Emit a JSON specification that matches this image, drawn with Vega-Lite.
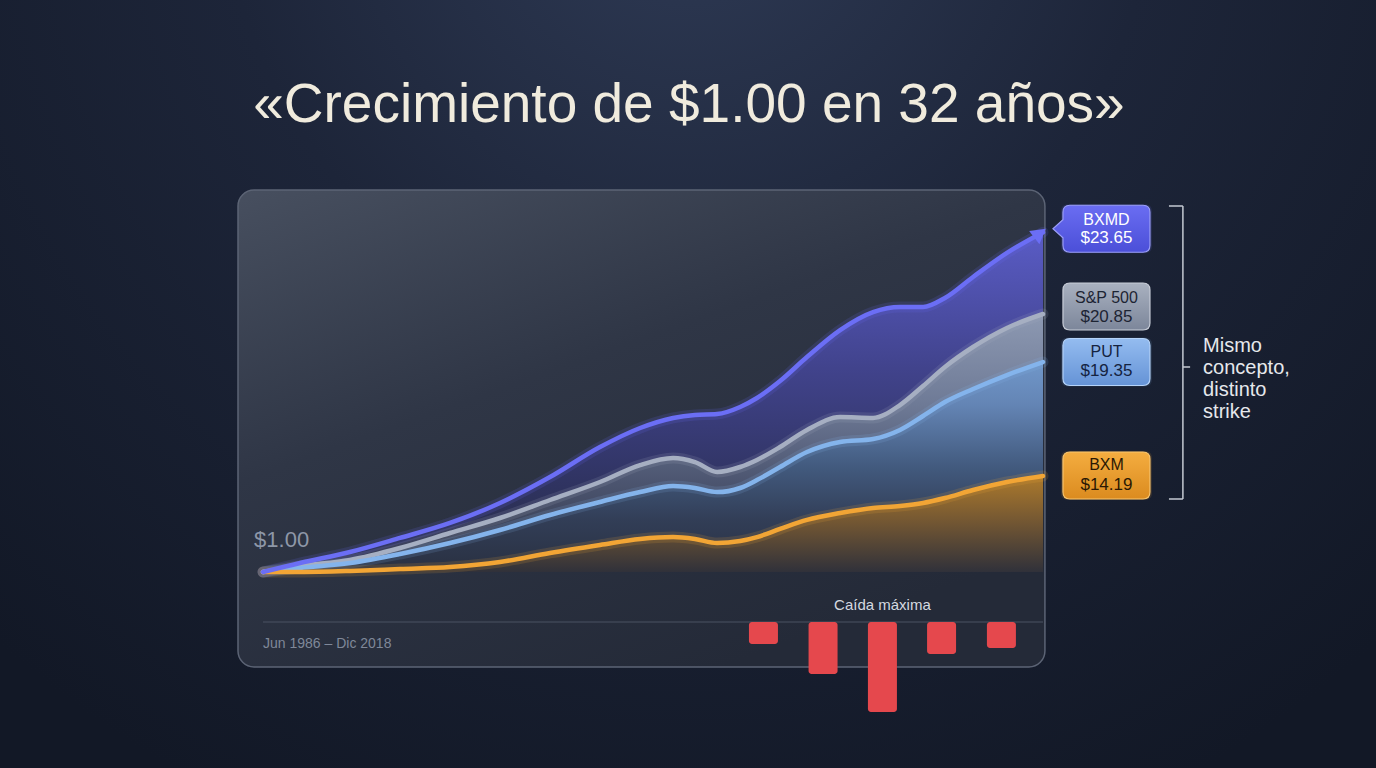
{
  "$schema": "https://vega.github.io/schema/vega-lite/v6.json",
  "width": 1376,
  "height": 768,
  "autosize": {"type": "fit", "contains": "padding"},
  "padding": 0,
  "background": "#131a28",
  "config": {"view": {"stroke": null}, "axis": {"disable": true}, "font": "Liberation Sans"},
  "datasets": {
    "series": [
      {"anio": 1986.5, "serie": "BXMD", "valor": 1.00},
      {"anio": 1988.04, "serie": "BXMD", "valor": 1.60},
      {"anio": 1990.12, "serie": "BXMD", "valor": 2.33},
      {"anio": 1992.2, "serie": "BXMD", "valor": 3.27},
      {"anio": 1994.28, "serie": "BXMD", "valor": 4.27},
      {"anio": 1996.36, "serie": "BXMD", "valor": 5.60},
      {"anio": 1998.44, "serie": "BXMD", "valor": 7.33},
      {"anio": 2000.52, "serie": "BXMD", "valor": 9.33},
      {"anio": 2002.19, "serie": "BXMD", "valor": 10.60},
      {"anio": 2003.56, "serie": "BXMD", "valor": 11.27},
      {"anio": 2004.47, "serie": "BXMD", "valor": 11.47},
      {"anio": 2005.39, "serie": "BXMD", "valor": 11.53},
      {"anio": 2006.35, "serie": "BXMD", "valor": 12.00},
      {"anio": 2007.05, "serie": "BXMD", "valor": 12.60},
      {"anio": 2008.01, "serie": "BXMD", "valor": 13.73},
      {"anio": 2009.13, "serie": "BXMD", "valor": 15.33},
      {"anio": 2010.51, "serie": "BXMD", "valor": 17.13},
      {"anio": 2011.88, "serie": "BXMD", "valor": 18.33},
      {"anio": 2013.0, "serie": "BXMD", "valor": 18.67},
      {"anio": 2013.96, "serie": "BXMD", "valor": 18.67},
      {"anio": 2014.87, "serie": "BXMD", "valor": 19.27},
      {"anio": 2016.04, "serie": "BXMD", "valor": 20.67},
      {"anio": 2017.45, "serie": "BXMD", "valor": 22.27},
      {"anio": 2018.95, "serie": "BXMD", "valor": 23.65},
      {"anio": 1986.5, "serie": "S&P 500", "valor": 1.00},
      {"anio": 1988.04, "serie": "S&P 500", "valor": 1.40},
      {"anio": 1990.12, "serie": "S&P 500", "valor": 1.80},
      {"anio": 1992.2, "serie": "S&P 500", "valor": 2.60},
      {"anio": 1994.28, "serie": "S&P 500", "valor": 3.60},
      {"anio": 1996.36, "serie": "S&P 500", "valor": 4.60},
      {"anio": 1998.44, "serie": "S&P 500", "valor": 5.80},
      {"anio": 2000.52, "serie": "S&P 500", "valor": 7.00},
      {"anio": 2002.19, "serie": "S&P 500", "valor": 8.13},
      {"anio": 2003.56, "serie": "S&P 500", "valor": 8.60},
      {"anio": 2004.47, "serie": "S&P 500", "valor": 8.33},
      {"anio": 2005.39, "serie": "S&P 500", "valor": 7.67},
      {"anio": 2006.35, "serie": "S&P 500", "valor": 8.00},
      {"anio": 2007.05, "serie": "S&P 500", "valor": 8.47},
      {"anio": 2008.01, "serie": "S&P 500", "valor": 9.33},
      {"anio": 2009.13, "serie": "S&P 500", "valor": 10.47},
      {"anio": 2010.51, "serie": "S&P 500", "valor": 11.33},
      {"anio": 2011.88, "serie": "S&P 500", "valor": 11.27},
      {"anio": 2013.0, "serie": "S&P 500", "valor": 12.13},
      {"anio": 2013.96, "serie": "S&P 500", "valor": 13.40},
      {"anio": 2014.87, "serie": "S&P 500", "valor": 14.67},
      {"anio": 2016.04, "serie": "S&P 500", "valor": 16.00},
      {"anio": 2017.45, "serie": "S&P 500", "valor": 17.27},
      {"anio": 2018.95, "serie": "S&P 500", "valor": 18.20},
      {"anio": 1986.5, "serie": "PUT", "valor": 1.00},
      {"anio": 1988.04, "serie": "PUT", "valor": 1.27},
      {"anio": 1990.12, "serie": "PUT", "valor": 1.60},
      {"anio": 1992.2, "serie": "PUT", "valor": 2.20},
      {"anio": 1994.28, "serie": "PUT", "valor": 2.93},
      {"anio": 1996.36, "serie": "PUT", "valor": 3.80},
      {"anio": 1998.44, "serie": "PUT", "valor": 4.80},
      {"anio": 2000.52, "serie": "PUT", "valor": 5.67},
      {"anio": 2002.19, "serie": "PUT", "valor": 6.33},
      {"anio": 2003.56, "serie": "PUT", "valor": 6.73},
      {"anio": 2004.47, "serie": "PUT", "valor": 6.60},
      {"anio": 2005.39, "serie": "PUT", "valor": 6.33},
      {"anio": 2006.35, "serie": "PUT", "valor": 6.60},
      {"anio": 2007.05, "serie": "PUT", "valor": 7.13},
      {"anio": 2008.01, "serie": "PUT", "valor": 8.00},
      {"anio": 2009.13, "serie": "PUT", "valor": 9.00},
      {"anio": 2010.51, "serie": "PUT", "valor": 9.67},
      {"anio": 2011.88, "serie": "PUT", "valor": 9.87},
      {"anio": 2013.0, "serie": "PUT", "valor": 10.47},
      {"anio": 2013.96, "serie": "PUT", "valor": 11.40},
      {"anio": 2014.87, "serie": "PUT", "valor": 12.33},
      {"anio": 2016.04, "serie": "PUT", "valor": 13.20},
      {"anio": 2017.45, "serie": "PUT", "valor": 14.13},
      {"anio": 2018.95, "serie": "PUT", "valor": 15.00},
      {"anio": 1986.5, "serie": "BXM", "valor": 1.00},
      {"anio": 1988.04, "serie": "BXM", "valor": 1.00},
      {"anio": 1990.12, "serie": "BXM", "valor": 1.07},
      {"anio": 1992.2, "serie": "BXM", "valor": 1.20},
      {"anio": 1994.28, "serie": "BXM", "valor": 1.33},
      {"anio": 1996.36, "serie": "BXM", "valor": 1.67},
      {"anio": 1998.44, "serie": "BXM", "valor": 2.27},
      {"anio": 2000.52, "serie": "BXM", "valor": 2.80},
      {"anio": 2002.19, "serie": "BXM", "valor": 3.20},
      {"anio": 2003.56, "serie": "BXM", "valor": 3.33},
      {"anio": 2004.47, "serie": "BXM", "valor": 3.20},
      {"anio": 2005.39, "serie": "BXM", "valor": 2.93},
      {"anio": 2006.35, "serie": "BXM", "valor": 3.07},
      {"anio": 2007.05, "serie": "BXM", "valor": 3.33},
      {"anio": 2008.01, "serie": "BXM", "valor": 3.87},
      {"anio": 2009.13, "serie": "BXM", "valor": 4.47},
      {"anio": 2010.51, "serie": "BXM", "valor": 4.93},
      {"anio": 2011.88, "serie": "BXM", "valor": 5.27},
      {"anio": 2013.0, "serie": "BXM", "valor": 5.40},
      {"anio": 2013.96, "serie": "BXM", "valor": 5.60},
      {"anio": 2014.87, "serie": "BXM", "valor": 5.93},
      {"anio": 2016.04, "serie": "BXM", "valor": 6.47},
      {"anio": 2017.45, "serie": "BXM", "valor": 7.00},
      {"anio": 2018.95, "serie": "BXM", "valor": 7.40}
    ],
    "etiquetas": [
      {"serie": "BXMD", "final": 23.65},
      {"serie": "S&P 500", "final": 20.85},
      {"serie": "PUT", "final": 19.35},
      {"serie": "BXM", "final": 14.19}
    ],
    "caidas": [
      {"anio": 2007.32, "caida": -11},
      {"anio": 2009.80, "caida": -26},
      {"anio": 2012.27, "caida": -45},
      {"anio": 2014.73, "caida": -16},
      {"anio": 2017.22, "caida": -13}
    ]
  },
  "layer": [
    {
      "layer": [
        {
          "data": {"values": [{}]},
          "mark": {"type": "rect", "fill": {"gradient": "radial", "x1": 0.5, "y1": 0.13, "r1": 0, "x2": 0.5, "y2": 0.13, "r2": 0.75, "stops": [{"offset": 0, "color": "#2f3b56"}, {"offset": 0.45, "color": "#1d2539"}, {"offset": 1, "color": "#121826"}]}},
          "encoding": {
            "x": {"datum": 1975.5585, "type": "quantitative", "scale": {"domain": [1975.5585, 2032.8036], "nice": false, "zero": false, "padding": 0}, "axis": null},
            "x2": {"datum": 2032.8036},
            "y": {"datum": -12.0667, "type": "quantitative", "scale": {"domain": [-12.0667, 39.1333], "nice": false, "zero": false}, "axis": null},
            "y2": {"datum": 39.1333}
          }
        },
        {
          "data": {"values": [{}]},
          "mark": {"type": "rect", "cornerRadius": 18, "fill": "#05080f", "opacity": 0.35, "yOffset": 10},
          "encoding": {"x": {"datum": 1985.46}, "x2": {"datum": 2019.03}, "y": {"datum": 26.467}, "y2": {"datum": -5.333}}
        },
        {
          "data": {"values": [{}]},
          "mark": {"type": "rect", "cornerRadius": 16, "stroke": "#5c6475", "strokeWidth": 1.5, "fill": {"gradient": "linear", "x1": 0, "y1": 0, "x2": 0.6, "y2": 1, "stops": [{"offset": 0, "color": "#474f5f"}, {"offset": 0.45, "color": "#2f3646"}, {"offset": 1, "color": "#242a38"}]}},
          "encoding": {"x": {"datum": 1985.46}, "x2": {"datum": 2019.03}, "y": {"datum": 26.467}, "y2": {"datum": -5.333}}
        },
        {
          "data": {"name": "series"},
          "transform": [{"filter": "datum.serie === 'BXMD'"}],
          "mark": {"type": "area", "interpolate": "monotone", "fill": {"gradient": "linear", "x1": 0, "y1": 0, "x2": 0, "y2": 1, "stops": [{"offset": 0, "color": "#5a5cc6"}, {"offset": 0.4, "color": "#41438c"}, {"offset": 0.75, "color": "#2f3360"}, {"offset": 1, "color": "#272c42"}]}},
          "encoding": {"x": {"field": "anio", "type": "quantitative"}, "y": {"field": "valor", "type": "quantitative"}, "y2": {"datum": 1}}
        },
        {
          "data": {"name": "series"},
          "transform": [{"filter": "datum.serie === 'S&P 500'"}],
          "mark": {"type": "area", "interpolate": "monotone", "fill": {"gradient": "linear", "x1": 0, "y1": 0, "x2": 0, "y2": 1, "stops": [{"offset": 0, "color": "#8d99b2"}, {"offset": 0.35, "color": "#6e7a96"}, {"offset": 0.65, "color": "#4c5570"}, {"offset": 1, "color": "#2e3446"}]}},
          "encoding": {"x": {"field": "anio", "type": "quantitative"}, "y": {"field": "valor", "type": "quantitative"}, "y2": {"datum": 1}}
        },
        {
          "data": {"name": "series"},
          "transform": [{"filter": "datum.serie === 'PUT'"}],
          "mark": {"type": "area", "interpolate": "monotone", "fill": {"gradient": "linear", "x1": 0, "y1": 0, "x2": 0, "y2": 1, "stops": [{"offset": 0, "color": "#7097c9"}, {"offset": 0.2, "color": "#6485b5"}, {"offset": 0.5, "color": "#425a7e"}, {"offset": 0.75, "color": "#323e57"}, {"offset": 1, "color": "#293041"}]}},
          "encoding": {"x": {"field": "anio", "type": "quantitative"}, "y": {"field": "valor", "type": "quantitative"}, "y2": {"datum": 1}}
        },
        {
          "data": {"name": "series"},
          "transform": [{"filter": "datum.serie === 'BXM'"}],
          "mark": {"type": "area", "interpolate": "monotone", "fill": {"gradient": "linear", "x1": 0, "y1": 0, "x2": 0, "y2": 1, "stops": [{"offset": 0, "color": "#ad7a2c"}, {"offset": 0.5, "color": "#705533"}, {"offset": 1, "color": "#30313a"}]}},
          "encoding": {"x": {"field": "anio", "type": "quantitative"}, "y": {"field": "valor", "type": "quantitative"}, "y2": {"datum": 1}}
        },
        {
          "data": {"name": "series"},
          "mark": {"type": "line", "interpolate": "monotone", "strokeWidth": 11, "opacity": 0.15, "strokeCap": "round"},
          "encoding": {
            "x": {"field": "anio", "type": "quantitative"},
            "y": {"field": "valor", "type": "quantitative"},
            "color": {"field": "serie", "type": "nominal", "scale": {"domain": ["BXMD", "S&P 500", "PUT", "BXM"], "range": ["#6b6ef5", "#a6afc2", "#84b4ec", "#f2a535"]}, "legend": null}
          }
        },
        {
          "data": {"name": "series"},
          "transform": [{"filter": "datum.serie !== 'BXMD'"}],
          "mark": {"type": "line", "interpolate": "monotone", "strokeWidth": 4.5, "strokeCap": "round"},
          "encoding": {
            "x": {"field": "anio", "type": "quantitative"},
            "y": {"field": "valor", "type": "quantitative"},
            "color": {"field": "serie", "type": "nominal", "legend": null}
          }
        },
        {
          "data": {"name": "series"},
          "transform": [{"filter": "datum.serie === 'BXMD'"}],
          "mark": {"type": "line", "interpolate": "monotone", "strokeWidth": 4.5, "strokeCap": "round"},
          "encoding": {
            "x": {"field": "anio", "type": "quantitative"},
            "y": {"field": "valor", "type": "quantitative"},
            "color": {"field": "serie", "type": "nominal", "legend": null}
          }
        },
        {
          "data": {"name": "series"},
          "transform": [{"filter": "datum.serie === 'BXMD' && datum.anio === 2018.95"}],
          "mark": {"type": "point", "shape": "triangle-up", "size": 280, "angle": 52, "filled": true, "fill": "#6b6ef5", "stroke": null, "opacity": 1, "xOffset": -3, "yOffset": 1},
          "encoding": {"x": {"field": "anio", "type": "quantitative"}, "y": {"field": "valor", "type": "quantitative"}}
        },
        {
          "data": {"values": [{}]},
          "mark": {"type": "rule", "stroke": "#4a5263", "strokeWidth": 1.2},
          "encoding": {"x": {"datum": 1986.5}, "x2": {"datum": 2018.95}, "y": {"datum": -2.333}}
        },
        {
          "data": {"values": [{}]},
          "mark": {"type": "text", "text": "$1.00", "align": "left", "baseline": "alphabetic", "fontSize": 22, "color": "#8e97a8"},
          "encoding": {"x": {"datum": 1986.13}, "y": {"datum": 2.667}}
        },
        {
          "data": {"values": [{}]},
          "mark": {"type": "text", "text": "Jun 1986 – Dic 2018", "align": "left", "baseline": "alphabetic", "fontSize": 14, "color": "#7f8899"},
          "encoding": {"x": {"datum": 1986.5}, "y": {"datum": -4.067}}
        },
        {
          "data": {"values": [{}]},
          "mark": {"type": "text", "text": "Caída máxima", "align": "center", "baseline": "alphabetic", "fontSize": 15, "color": "#d5d9e0"},
          "encoding": {"x": {"datum": 2012.27}, "y": {"datum": -1.533}}
        },
        {
          "data": {"values": [{}]},
          "mark": {"type": "text", "text": "«Crecimiento de $1.00 en 32 años»", "align": "center", "baseline": "alphabetic", "fontSize": 55, "color": "#f0ebdd"},
          "encoding": {"x": {"datum": 2004.22}, "y": {"datum": 31.0}}
        },
        {
          "data": {"name": "series"},
          "transform": [{"filter": "datum.serie === 'BXMD' && datum.anio === 2018.95"}, {"lookup": "serie", "from": {"data": {"name": "etiquetas"}, "key": "serie", "fields": ["final"]}}],
          "layer": [
            {"mark": {"type": "point", "shape": "M-0.84,-0.54 L0.84,-0.54 Q1,-0.54 1,-0.38 L1,0.38 Q1,0.54 0.84,0.54 L-0.84,0.54 Q-1,0.54 -1,0.38 L-1,-0.38 Q-1,-0.54 -0.84,-0.54 Z", "size": 8300, "filled": true, "fill": "#6b6ef5", "stroke": null, "opacity": 0.14, "yOffset": -3.5},
             "encoding": {"x": {"datum": 2021.59}, "y": {"field": "valor", "type": "quantitative"}}},
            {"mark": {"type": "point", "shape": "M-0.84,-0.54 L0.84,-0.54 Q1,-0.54 1,-0.38 L1,0.38 Q1,0.54 0.84,0.54 L-0.84,0.54 Q-1,0.54 -1,0.38 L-1,0.21 L-1.23,0 L-1,-0.21 L-1,-0.38 Q-1,-0.54 -0.84,-0.54 Z", "size": 7569, "filled": true, "fill": {"gradient": "linear", "x1": 0, "y1": 0, "x2": 0, "y2": 1, "stops": [{"offset": 0, "color": "#6a6df2"}, {"offset": 1, "color": "#4b4fd8"}]}, "stroke": "#9b9ef8", "strokeWidth": 1.2, "opacity": 1, "yOffset": -3.5},
             "encoding": {"x": {"datum": 2021.59}, "y": {"field": "valor", "type": "quantitative"}}},
            {"mark": {"type": "text", "dy": -12.5, "fontSize": 16, "color": "#ffffff", "align": "center", "baseline": "middle"},
             "encoding": {"x": {"datum": 2021.59}, "y": {"field": "valor", "type": "quantitative"}, "text": {"field": "serie"}}},
            {"mark": {"type": "text", "dy": 6, "fontSize": 17, "color": "#ffffff", "align": "center", "baseline": "middle"},
             "encoding": {"x": {"datum": 2021.59}, "y": {"field": "valor", "type": "quantitative"}, "text": {"field": "final", "type": "quantitative", "format": "$.2f"}}}
          ]
        },
        {
          "data": {"name": "series"},
          "transform": [{"filter": "datum.serie === 'S&P 500' && datum.anio === 2018.95"}, {"lookup": "serie", "from": {"data": {"name": "etiquetas"}, "key": "serie", "fields": ["final"]}}],
          "layer": [
            {"mark": {"type": "point", "shape": "M-0.84,-0.54 L0.84,-0.54 Q1,-0.54 1,-0.38 L1,0.38 Q1,0.54 0.84,0.54 L-0.84,0.54 Q-1,0.54 -1,0.38 L-1,-0.38 Q-1,-0.54 -0.84,-0.54 Z", "size": 7569, "filled": true, "fill": {"gradient": "linear", "x1": 0, "y1": 0, "x2": 0, "y2": 1, "stops": [{"offset": 0, "color": "#a9b1c0"}, {"offset": 1, "color": "#7c869a"}]}, "stroke": "#c8cdd8", "strokeWidth": 1.2, "opacity": 1, "yOffset": -7.5},
             "encoding": {"x": {"datum": 2021.59}, "y": {"field": "valor", "type": "quantitative"}}},
            {"mark": {"type": "text", "dy": -16, "fontSize": 16, "color": "#1d2433", "align": "center", "baseline": "middle"},
             "encoding": {"x": {"datum": 2021.59}, "y": {"field": "valor", "type": "quantitative"}, "text": {"field": "serie"}}},
            {"mark": {"type": "text", "dy": 3, "fontSize": 17, "color": "#1d2433", "align": "center", "baseline": "middle"},
             "encoding": {"x": {"datum": 2021.59}, "y": {"field": "valor", "type": "quantitative"}, "text": {"field": "final", "type": "quantitative", "format": "$.2f"}}}
          ]
        },
        {
          "data": {"name": "series"},
          "transform": [{"filter": "datum.serie === 'PUT' && datum.anio === 2018.95"}, {"lookup": "serie", "from": {"data": {"name": "etiquetas"}, "key": "serie", "fields": ["final"]}}],
          "layer": [
            {"mark": {"type": "point", "shape": "M-0.84,-0.54 L0.84,-0.54 Q1,-0.54 1,-0.38 L1,0.38 Q1,0.54 0.84,0.54 L-0.84,0.54 Q-1,0.54 -1,0.38 L-1,-0.38 Q-1,-0.54 -0.84,-0.54 Z", "size": 8300, "filled": true, "fill": "#84b4ec", "stroke": null, "opacity": 0.12},
             "encoding": {"x": {"datum": 2021.59}, "y": {"field": "valor", "type": "quantitative"}}},
            {"mark": {"type": "point", "shape": "M-0.84,-0.54 L0.84,-0.54 Q1,-0.54 1,-0.38 L1,0.38 Q1,0.54 0.84,0.54 L-0.84,0.54 Q-1,0.54 -1,0.38 L-1,-0.38 Q-1,-0.54 -0.84,-0.54 Z", "size": 7569, "filled": true, "fill": {"gradient": "linear", "x1": 0, "y1": 0, "x2": 0, "y2": 1, "stops": [{"offset": 0, "color": "#94bcf0"}, {"offset": 1, "color": "#6593d6"}]}, "stroke": "#b5d3f9", "strokeWidth": 1.2, "opacity": 1},
             "encoding": {"x": {"datum": 2021.59}, "y": {"field": "valor", "type": "quantitative"}}},
            {"mark": {"type": "text", "dy": -10, "fontSize": 16, "color": "#152340", "align": "center", "baseline": "middle"},
             "encoding": {"x": {"datum": 2021.59}, "y": {"field": "valor", "type": "quantitative"}, "text": {"field": "serie"}}},
            {"mark": {"type": "text", "dy": 9.5, "fontSize": 17, "color": "#152340", "align": "center", "baseline": "middle"},
             "encoding": {"x": {"datum": 2021.59}, "y": {"field": "valor", "type": "quantitative"}, "text": {"field": "final", "type": "quantitative", "format": "$.2f"}}}
          ]
        },
        {
          "data": {"name": "series"},
          "transform": [{"filter": "datum.serie === 'BXM' && datum.anio === 2018.95"}, {"lookup": "serie", "from": {"data": {"name": "etiquetas"}, "key": "serie", "fields": ["final"]}}],
          "layer": [
            {"mark": {"type": "point", "shape": "M-0.84,-0.54 L0.84,-0.54 Q1,-0.54 1,-0.38 L1,0.38 Q1,0.54 0.84,0.54 L-0.84,0.54 Q-1,0.54 -1,0.38 L-1,-0.38 Q-1,-0.54 -0.84,-0.54 Z", "size": 8300, "filled": true, "fill": "#f2a535", "stroke": null, "opacity": 0.14, "yOffset": -0.5},
             "encoding": {"x": {"datum": 2021.59}, "y": {"field": "valor", "type": "quantitative"}}},
            {"mark": {"type": "point", "shape": "M-0.84,-0.54 L0.84,-0.54 Q1,-0.54 1,-0.38 L1,0.38 Q1,0.54 0.84,0.54 L-0.84,0.54 Q-1,0.54 -1,0.38 L-1,-0.38 Q-1,-0.54 -0.84,-0.54 Z", "size": 7569, "filled": true, "fill": {"gradient": "linear", "x1": 0, "y1": 0, "x2": 0, "y2": 1, "stops": [{"offset": 0, "color": "#f4ad40"}, {"offset": 1, "color": "#db8b1f"}]}, "stroke": "#f9c56e", "strokeWidth": 1.2, "opacity": 1, "yOffset": -0.5},
             "encoding": {"x": {"datum": 2021.59}, "y": {"field": "valor", "type": "quantitative"}}},
            {"mark": {"type": "text", "dy": -10.5, "fontSize": 16, "color": "#2a1804", "align": "center", "baseline": "middle"},
             "encoding": {"x": {"datum": 2021.59}, "y": {"field": "valor", "type": "quantitative"}, "text": {"field": "serie"}}},
            {"mark": {"type": "text", "dy": 9, "fontSize": 17, "color": "#2a1804", "align": "center", "baseline": "middle"},
             "encoding": {"x": {"datum": 2021.59}, "y": {"field": "valor", "type": "quantitative"}, "text": {"field": "final", "type": "quantitative", "format": "$.2f"}}}
          ]
        },
        {
          "data": {"values": [{}]},
          "mark": {"type": "rule", "stroke": "#c5cad3", "strokeWidth": 1.5},
          "encoding": {"x": {"datum": 2024.77}, "y": {"datum": 25.4}, "y2": {"datum": 5.867}}
        },
        {
          "data": {"values": [{}]},
          "mark": {"type": "rule", "stroke": "#c5cad3", "strokeWidth": 1.5},
          "encoding": {"x": {"datum": 2024.19}, "x2": {"datum": 2024.77}, "y": {"datum": 25.4}}
        },
        {
          "data": {"values": [{}]},
          "mark": {"type": "rule", "stroke": "#c5cad3", "strokeWidth": 1.5},
          "encoding": {"x": {"datum": 2024.19}, "x2": {"datum": 2024.77}, "y": {"datum": 5.867}}
        },
        {
          "data": {"values": [{}]},
          "mark": {"type": "rule", "stroke": "#c5cad3", "strokeWidth": 1.5},
          "encoding": {"x": {"datum": 2024.77}, "x2": {"datum": 2025.07}, "y": {"datum": 14.667}}
        },
        {
          "data": {"values": [{}]},
          "mark": {"type": "text", "text": ["Mismo", "concepto,", "distinto", "strike"], "lineHeight": 22, "align": "left", "baseline": "middle", "fontSize": 20, "color": "#e6e8ec"},
          "encoding": {"x": {"datum": 2025.61}, "y": {"datum": 16.067}}
        }
      ]
    },
    {
      "data": {"name": "caidas"},
      "mark": {"type": "bar", "width": 29, "cornerRadius": 3, "color": "#e5484d"},
      "encoding": {
        "x": {"field": "anio", "type": "quantitative", "scale": {"domain": [1975.5585, 2032.8036], "nice": false, "zero": false, "padding": 0}, "axis": null},
        "y": {"field": "caida", "type": "quantitative", "scale": {"domain": [-73, 311], "nice": false, "zero": false}, "axis": null},
        "y2": {"datum": 0}
      }
    }
  ],
  "resolve": {"scale": {"y": "independent"}}
}
